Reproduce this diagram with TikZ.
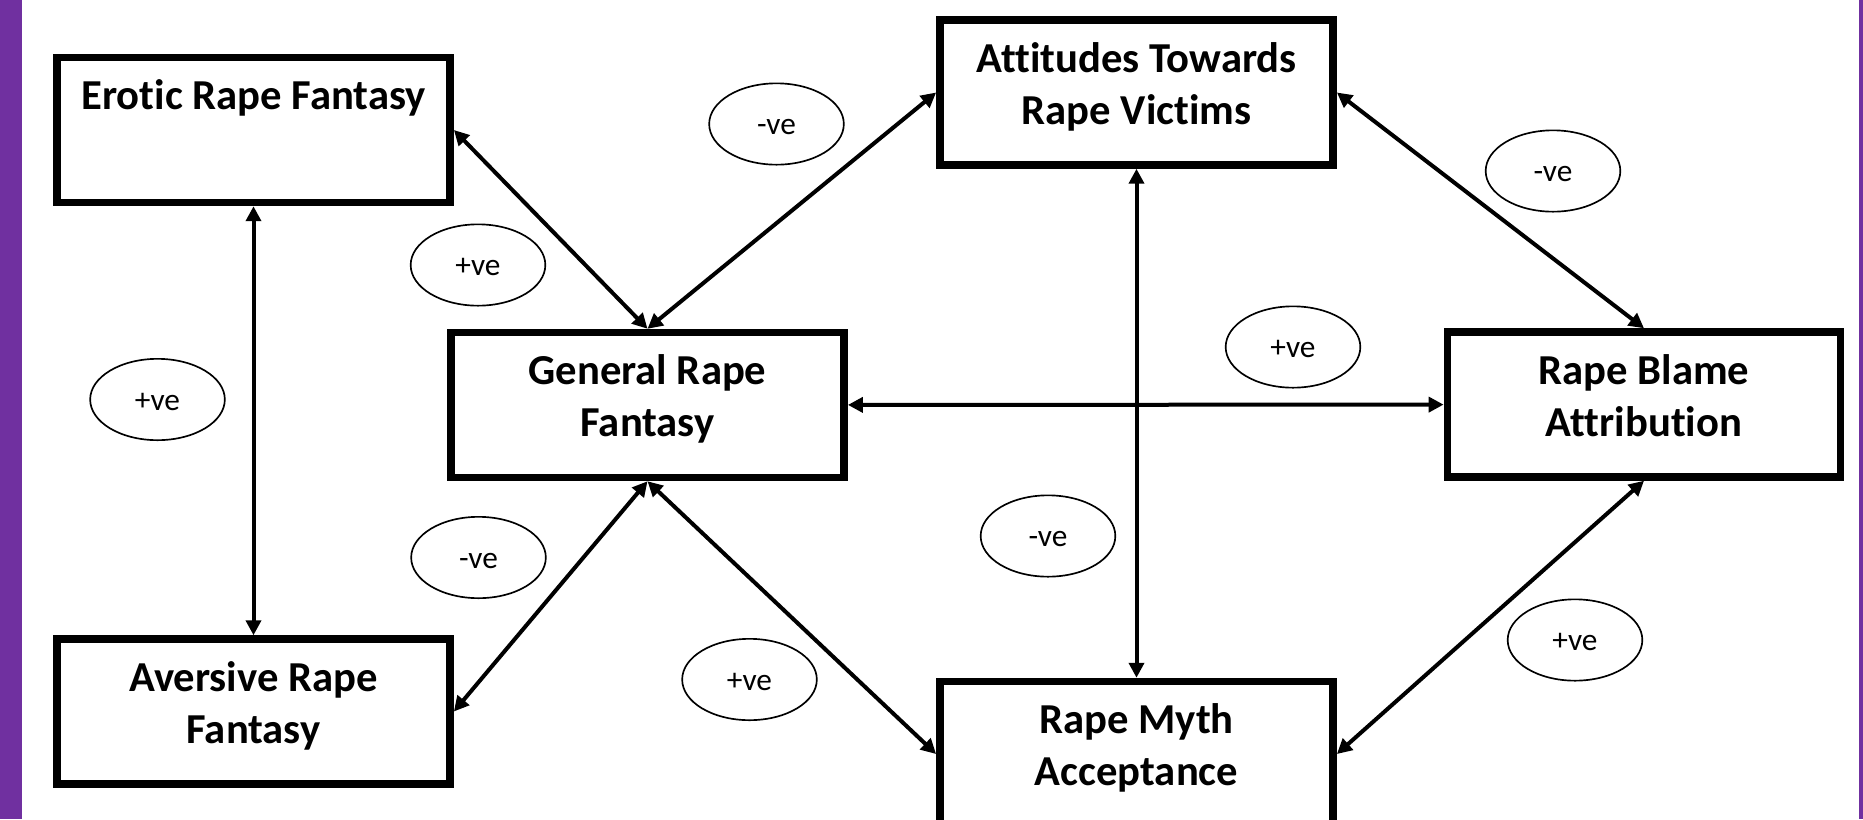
\documentclass[tikz,border=0pt]{standalone}
\usepackage{fontspec}
\setmainfont{Carlito}[Ligatures={NoCommon}]
\usetikzlibrary{arrows.meta,shapes.geometric}

\definecolor{sidebar}{RGB}{112,48,160}
\newcommand{\boxtext}[1]{\parbox[c][108.75pt][t]{295pt}{\centering\rule{0pt}{39.2pt}#1}}

\tikzset{
    factor/.style={draw, line width=5.6pt, inner sep=0pt, font=\bfseries\fontsize{32}{39}\selectfont},
    valence/.style={draw, ellipse, line width=1.25pt, inner sep=0pt, minimum width=101pt, minimum height=61pt, text height=16pt, text depth=0pt, font=\fontsize{23.5}{28}\selectfont},
    link/.style={{Triangle[length=11.25pt,width=11.25pt]}-{Triangle[length=11.25pt,width=11.25pt]}, line width=3pt}
}

\begin{document}
\begin{tikzpicture}[x=0.75pt,y=0.75pt,yscale=-1,xscale=1]
    \clip (0,0) rectangle (1863,819);
    
    %Side bars
    \fill [sidebar] (0,0) rectangle (22,819);
    \fill [sidebar] (1858.5,0) rectangle (1863,819);
    
    %Boxes
    \node [factor] (erotic) at (253.5,130) {\boxtext{Erotic Rape Fantasy}};
    \node [factor] (general) at (647.5,405) {\boxtext{General Rape\\Fantasy}};
    \node [factor] (aversive) at (253.5,711.5) {\boxtext{Aversive Rape\\Fantasy}};
    \node [factor] (attitudes) at (1136.5,92.5) {\boxtext{Attitudes Towards\\Rape Victims}};
    \node [factor] (blame) at (1644,404.5) {\boxtext{Rape Blame\\Attribution}};
    \node [factor] (myth) at (1136.5,754) {\boxtext{Rape Myth\\Acceptance}};
    
    %Straight Lines
    \draw [link] (erotic) -- (aversive);
    \draw [link] (erotic.east) -- (general.north);
    \draw [link] (general.north) -- (attitudes.west);
    \draw [link] (general.south) -- (aversive.east);
    \draw [link] (general.south) -- (myth.west);
    \draw [link] (general) -- (blame);
    \draw [link] (attitudes) -- (myth);
    \draw [link] (attitudes.east) -- (blame.north);
    \draw [link] (blame.south) -- (myth.east);
    
    % Text Node
    \node [valence] (vGT) at (776.5,124) {-ve};
    % Text Node
    \node [valence] (vEG) at (478,265) {+ve};
    % Text Node
    \node [valence] (vEA) at (157.5,399.5) {+ve};
    % Text Node
    \node [valence] (vGA) at (478.5,557.5) {-ve};
    % Text Node
    \node [valence] (vGM) at (749.5,679.5) {+ve};
    % Text Node
    \node [valence] (vTB) at (1553,171) {-ve};
    % Text Node
    \node [valence] (vGB) at (1293,347) {+ve};
    % Text Node
    \node [valence] (vTM) at (1048,536) {-ve};
    % Text Node
    \node [valence] (vMB) at (1575,640) {+ve};
    
\end{tikzpicture}
\end{document}
